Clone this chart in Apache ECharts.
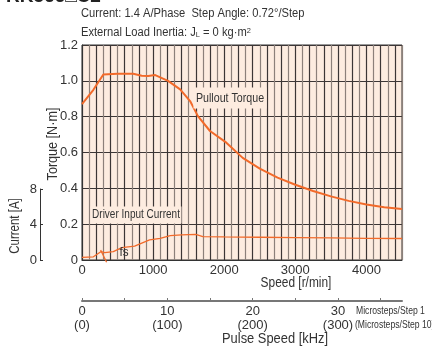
<!DOCTYPE html>
<html>
<head>
<meta charset="utf-8">
<script src="https://cdn.jsdelivr.net/npm/echarts@6/dist/echarts.min.js"></script>
<style>
  html, body { margin: 0; padding: 0; background: #fff; }
  #chart { width: 432px; height: 347px; }
</style>
</head>
<body>
<div id="chart"></div>
<script>
// 牵出转矩曲线 (r/min -> N·m)
const torqueSpeed = [0, 160, 300, 500, 720, 840, 930, 1030, 1210, 1380, 1520, 1630, 1800, 2030, 2260, 2500, 2750, 3000, 3250, 3500, 3750, 4000, 4250, 4500];
const torqueValues = [0.87, 0.95, 1.035, 1.04, 1.04, 1.028, 1.027, 1.032, 1.0, 0.952, 0.887, 0.803, 0.72, 0.655, 0.57, 0.51, 0.46, 0.42, 0.385, 0.355, 0.33, 0.31, 0.295, 0.285];

// 驱动器输入电流 (r/min -> A)
const currentSpeed = [0, 160, 270, 320, 440, 560, 740, 950, 1100, 1240, 1400, 1600, 1700, 2000, 2500, 3000, 3500, 4000, 4500];
const currentValues = [0.3, 0.36, 0.94, 0.82, 0.94, 1.38, 1.56, 2.24, 2.42, 2.72, 2.8, 2.86, 2.62, 2.58, 2.54, 2.5, 2.46, 2.42, 2.4];

// fs 标记线 (r/min, N·m)
const fsMark = [[262, 0.056], [346, -0.013]];

const speedLabels = [0, 1000, 2000, 3000, 4000];
const pulseTicks = [0, 5, 10, 15, 20, 25, 30, 35];
const pulseLabels = [0, 10, 20, 30];

const font = '"Liberation Sans", Arial, sans-serif';
const orange = '#f26a2a';
const peach = '#fdece0';
const ink = '#333';

// 窄体文字：用 scaleX 压缩
const txt = (x, y, text, size, sx, extra) => ({
  type: 'text', x: x, y: y, z: 100, scaleX: sx, rotation: (extra && extra.rotation) || 0,
  style: Object.assign({ text: text, font: size + 'px ' + font, fill: ink, verticalAlign: 'middle' }, (extra && extra.style) || {})
});

const chart = echarts.init(document.getElementById('chart'));

const option = {
  animation: false,
  textStyle: { fontFamily: font },
  grid: [
    {
      left: 82, right: 30, top: 45, bottom: 87,
      show: true, backgroundColor: peach, borderColor: ink, borderWidth: 1
    },
    { left: 40, top: 189, width: 10, height: 71 }
  ],
  xAxis: [
    {
      type: 'value', gridIndex: 0, min: 0, max: 4500, interval: 100,
      axisLine: { lineStyle: { color: ink, width: 1 } },
      axisTick: { show: false },
      axisLabel: {
        color: ink, fontSize: 13, margin: 4, fontFamily: font,
        formatter: v => (speedLabels.includes(v) ? String(v) : '')
      },
      splitLine: { show: true, lineStyle: { color: ['#3c3636', '#8c807a'], width: 1.2 } }
    },
    {
      type: 'value', gridIndex: 0, position: 'bottom', offset: 41,
      min: 0, max: 37.5,
      axisLine: { onZero: false, lineStyle: { color: '#777', width: 2 } },
      axisTick: { show: true, inside: true, length: 3, customValues: pulseTicks, lineStyle: { color: '#777', width: 1 } },
      axisLabel: {
        color: ink, fontSize: 13, margin: 3, lineHeight: 14, fontFamily: font,
        customValues: pulseLabels,
        formatter: v => v + '\n(' + v * 10 + ')'
      },
      splitLine: { show: false }
    },
    { type: 'value', gridIndex: 1, show: false, min: 0, max: 1 }
  ],
  yAxis: [
    {
      type: 'value', gridIndex: 0, min: 0, max: 1.2, interval: 0.2,
      axisLine: { show: true, lineStyle: { color: ink } },
      axisTick: { show: false },
      axisLabel: {
        color: ink, fontSize: 13, margin: 4, fontFamily: font,
        formatter: v => (v === 0 ? '0' : v.toFixed(1))
      },
      splitLine: { show: true, lineStyle: { color: '#3c3636', width: 1.2 } }
    },
    { type: 'value', gridIndex: 0, min: 0, max: 24, show: false },
    {
      type: 'value', gridIndex: 1, min: 0, max: 8, interval: 4, position: 'left',
      axisLine: { show: true, lineStyle: { color: ink } },
      axisTick: { show: true, inside: true, length: 3, lineStyle: { color: ink } },
      axisLabel: { color: ink, fontSize: 13, margin: 3, fontFamily: font },
      splitLine: { show: false }
    }
  ],
  series: [
    {
      name: 'Pullout Torque', type: 'line', xAxisIndex: 0, yAxisIndex: 0,
      data: torqueSpeed.map((s, i) => [s, torqueValues[i]]),
      showSymbol: false, lineStyle: { color: orange, width: 2 }
    },
    {
      name: 'Driver Input Current', type: 'line', xAxisIndex: 0, yAxisIndex: 1,
      data: currentSpeed.map((s, i) => [s, currentValues[i]]),
      showSymbol: false, lineStyle: { color: orange, width: 1.3 }
    },
    {
      name: 'fs', type: 'line', xAxisIndex: 0, yAxisIndex: 0, clip: false,
      data: fsMark, showSymbol: false, lineStyle: { color: orange, width: 1.3 }
    }
  ],
  graphic: [
    { type: 'text', left: 6, top: -13, style: { text: 'RK566□C2', font: 'bold 19px ' + font, fill: '#222' } },
    txt(81, 14, 'Current: 1.4 A/Phase  Step Angle: 0.72°/Step', 12, 0.93),
    {
      type: 'text', x: 81, y: 33, scaleX: 0.93,
      style: {
        text: '{n|External Load Inertia: J}{s|L}{n| = 0 kg·m}{p|2}',
        fill: ink, verticalAlign: 'middle',
        rich: {
          n: { fontSize: 12, fontFamily: font, fill: ink },
          s: { fontSize: 8, fontFamily: font, fill: ink, padding: [4, 0, 0, 0] },
          p: { fontSize: 8, fontFamily: font, fill: ink, padding: [0, 0, 5, 0] }
        }
      }
    },
    txt(53, 144, 'Torque [N·m]', 14, 0.9, { rotation: Math.PI / 2, style: { align: 'center' } }),
    txt(15, 226, 'Current [A]', 14, 0.82, { rotation: Math.PI / 2, style: { align: 'center' } }),
    txt(230, 98, 'Pullout Torque', 13, 0.82, { style: { align: 'center', backgroundColor: peach, padding: [4, 3, 4, 3] } }),
    txt(136, 215, 'Driver Input Current', 12.5, 0.8, { style: { align: 'center', backgroundColor: peach, padding: [2, 2, 2, 2] } }),
    txt(124, 252, 'fs', 13, 0.9, { style: { align: 'center' } }),
    txt(296, 283, 'Speed [r/min]', 14, 0.85, { style: { align: 'center' } }),
    txt(275, 339, 'Pulse Speed [kHz]', 14, 0.92, { style: { align: 'center' } }),
    txt(356, 311, 'Microsteps/Step 1', 10.5, 0.82),
    txt(355, 325, '(Microsteps/Step 10)', 10.5, 0.82)
  ]
};

chart.setOption(option);
</script>
</body>
</html>
